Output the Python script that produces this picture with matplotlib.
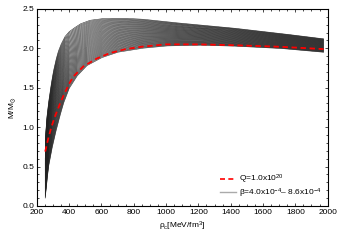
import numpy as np
import matplotlib
matplotlib.use("Agg")
import matplotlib.pyplot as plt
from matplotlib.ticker import MultipleLocator
from matplotlib.lines import Line2D

plt.rcParams['font.family'] = ['Liberation Sans', 'DejaVu Sans']
plt.rcParams['mathtext.fontset'] = 'custom'
plt.rcParams['mathtext.rm'] = 'Liberation Sans'
plt.rcParams['mathtext.it'] = 'Liberation Sans:italic'
plt.rcParams['mathtext.fallback'] = 'stixsans'

# ---- data ----
# beta values of the family (4.0e-4 ... 8.6e-4)
beta_values = np.round(np.arange(4.0, 8.61, 0.1), 2) * 1e-4

# upper envelope curve of the family
top_rho = [253, 256, 262, 272, 283, 288, 302, 318, 333, 350, 375, 400, 426, 470, 529, 600, 653, 750, 850, 1030, 1400, 1700, 1975]
top_M = [0.60, 0.95, 1.12, 1.30, 1.46, 1.53, 1.70, 1.85, 1.96, 2.05, 2.15, 2.21, 2.25, 2.31, 2.355, 2.375, 2.38, 2.38, 2.37, 2.33, 2.26, 2.19, 2.12]

# lower envelope curve of the family
bot_rho = [252, 262, 273, 293, 315, 340, 365, 400, 450, 510, 600, 700, 850, 1000, 1200, 1400, 1700, 1975]
bot_M = [0.10, 0.30, 0.50, 0.72, 0.92, 1.12, 1.30, 1.49, 1.65, 1.78, 1.88, 1.95, 2.00, 2.03, 2.04, 2.03, 2.00, 1.95]

# Q = 1.0e20 curve (red dashed)
q_rho = [252, 270, 290, 315, 340, 365, 400, 426, 488, 571, 653, 750, 850, 1000, 1200, 1400, 1700, 1975]
q_M = [0.69, 0.85, 1.00, 1.15, 1.28, 1.40, 1.55, 1.64, 1.77, 1.87, 1.94, 1.99, 2.02, 2.05, 2.05, 2.04, 2.02, 1.99]

fig = plt.figure(figsize=(3.39, 2.40), dpi=100)
ax = fig.add_axes([0.1086, 0.1417, 0.8578, 0.8213])

grid = np.linspace(252, 1975, 800)
Mt = np.interp(grid, top_rho, top_M)
Mb = np.interp(grid, bot_rho, bot_M)
n = len(beta_values)
for i, b in enumerate(beta_values):
    t = i / (n - 1)
    ax.plot(grid, Mb + t * (Mt - Mb), color='#222222', lw=0.38)

ax.plot(q_rho, q_M, color='red', ls=(0, (3, 2)), lw=1.3, zorder=5)

ax.set_xlim(200, 2000)
ax.set_ylim(0.0, 2.5)
ax.xaxis.set_major_locator(MultipleLocator(200))
ax.xaxis.set_minor_locator(MultipleLocator(50))
ax.yaxis.set_major_locator(MultipleLocator(0.5))
ax.yaxis.set_minor_locator(MultipleLocator(0.1))
ax.tick_params(which='both', direction='in', top=True, right=True, labelsize=6, width=0.5, pad=2)
ax.tick_params(which='major', length=2.5)
ax.tick_params(which='minor', length=1.3)
for s in ax.spines.values():
    s.set_linewidth(0.8)

ax.set_xlabel(r'ρ$_\mathregular{c}$[MeV/fm$^\mathregular{3}$]', fontsize=6, labelpad=3)
ax.set_ylabel(r'M/M$_{\odot}$', fontsize=6, labelpad=3)

handles = [Line2D([], [], color='red', ls=(0, (3, 2)), lw=1.2),
           Line2D([], [], color='#aaaaaa', lw=1.0)]
labels = [r'Q=1.0x10$^\mathregular{20}$',
          r'β=4.0x10$^\mathregular{-4}$– 8.6x10$^\mathregular{-4}$']
ax.legend(handles, labels, loc='lower right', frameon=False, fontsize=6,
          handlelength=2.0, handletextpad=0.3, borderaxespad=0.35, labelspacing=0.0)

fig.savefig('out.png', dpi=100)
